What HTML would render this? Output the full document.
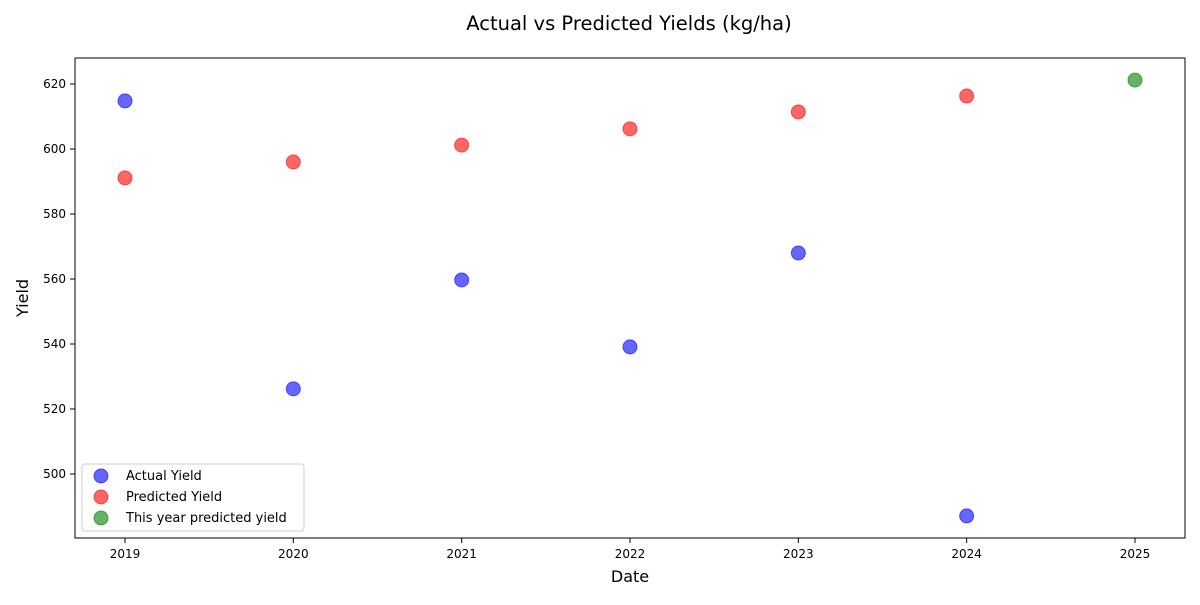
<!DOCTYPE html>
<html><head><meta charset="utf-8"><style>
body{margin:0;background:#fff;font-family:"Liberation Sans","DejaVu Sans",sans-serif;}
</style></head><body>
<svg id="chart" width="1200" height="600" xmlns="http://www.w3.org/2000/svg" font-family="DejaVu Sans, Liberation Sans, sans-serif">
<rect width="1200" height="600" fill="#fff"/>
<text x="629" y="30" text-anchor="middle" font-size="19.5">Actual vs Predicted Yields (kg/ha)</text>
<g id="ticks"></g>
<g id="marks"></g>
<rect x="75" y="58" width="1110" height="480" fill="none" stroke="#000" stroke-width="1"/>
<text x="630" y="582" text-anchor="middle" font-size="16">Date</text>
<text x="28" y="298" text-anchor="middle" font-size="16" transform="rotate(-90 28 298)">Yield</text>
<g>
<rect x="82" y="464" width="222" height="67" rx="3" fill="#fff" fill-opacity="0.8" stroke="#ccc"/>
<circle cx="101" cy="476" r="7" fill="rgba(0,0,255,0.6)" stroke="rgba(0,0,255,0.6)"/>
<text x="126" y="480" font-size="13">Actual Yield</text>
<circle cx="101" cy="497" r="7" fill="rgba(255,0,0,0.6)" stroke="rgba(255,0,0,0.6)"/>
<text x="126" y="501" font-size="13">Predicted Yield</text>
<circle cx="101" cy="518" r="7" fill="rgba(0,128,0,0.6)" stroke="rgba(0,128,0,0.6)"/>
<text x="126" y="522" font-size="13">This year predicted yield</text>
</g>
</svg>
<script>
const years = [2019, 2020, 2021, 2022, 2023, 2024];
const actualYield = [614.8, 526.2, 559.7, 539.1, 568.0, 487.1];
const predictedYield = [591.1, 596.0, 601.2, 606.2, 611.4, 616.3];
const thisYear = [2025];
const thisYearYield = [621.2];
const xTicks = [2019, 2020, 2021, 2022, 2023, 2024, 2025];
const yTicks = [500, 520, 540, 560, 580, 600, 620];

const NS = "http://www.w3.org/2000/svg";
function xs(v){ return 125 + (v - 2019) * (1010 / 6); }
function ys(v){ return 84 + (620 - v) * 3.25; }
const tg = document.getElementById('ticks');
const mg = document.getElementById('marks');
function mk(tag, attrs, parent){
  const e = document.createElementNS(NS, tag);
  for (const k in attrs) e.setAttribute(k, attrs[k]);
  parent.appendChild(e); return e;
}
xTicks.forEach(t => {
  const x = xs(t);
  const l = mk('line', {x1:x, x2:x, y1:538, y2:543, stroke:'#000'}, tg);
  
  
  const tx = mk('text', {x:x, y:558, 'text-anchor':'middle', 'font-size':12}, tg);
  tx.textContent = t;
  
  
});
yTicks.forEach(t => {
  const y = ys(t);
  const l = mk('line', {x1:70, x2:75, y1:y, y2:y, stroke:'#000'}, tg);
  
  
  const tx = mk('text', {x:66, y:y+4, 'text-anchor':'end', 'font-size':12}, tg);
  tx.textContent = t;
  
  
});
function pts(xv, yv, color, name){
  xv.forEach((x, i) => {
    const c = mk('circle', {cx:xs(x), cy:ys(yv[i]), r:7, fill:color, stroke:color}, mg);
    
    
  });
}
pts(years, actualYield, 'rgba(0,0,255,0.6)', 'actual-point');
pts(years, predictedYield, 'rgba(255,0,0,0.6)', 'predicted-point');
pts(thisYear, thisYearYield, 'rgba(0,128,0,0.6)', 'this-year-point');
</script>
</body></html>
